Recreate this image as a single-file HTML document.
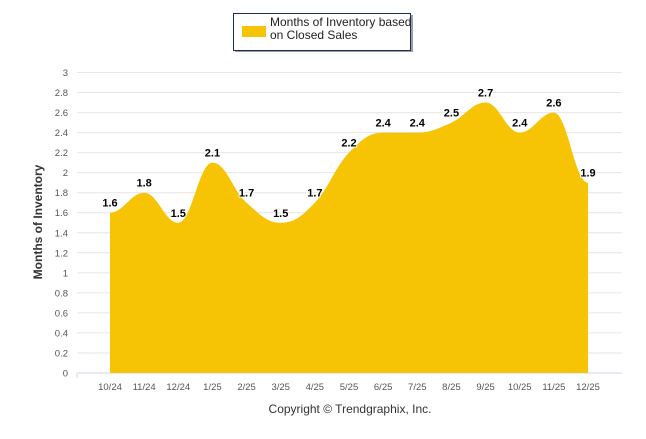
<!DOCTYPE html>
<html><head><meta charset="utf-8"><style>
body{margin:0;background:#fff;font-family:"Liberation Sans",Arial,sans-serif}
svg text{font-family:"Liberation Sans",Arial,sans-serif}
</style></head><body>
<svg width="646" height="434">
<g>
<rect x="235" y="15" width="178" height="37" fill="#333d55" opacity="0.5"/>
<rect x="233.5" y="13.5" width="177" height="37" fill="#fff" stroke="#1f2d4f" stroke-width="1"/>
<rect x="242" y="26" width="24" height="11" fill="#f6c405"/>
<text x="270" y="26" font-size="12" fill="#222">Months of Inventory based</text>
<text x="270" y="39" font-size="12" fill="#222">on Closed Sales</text>
</g>
<g id="grid"></g>
<path id="area" fill="#f6c405"/>
<g id="labels"></g>
<text transform="translate(42,222) rotate(-90)" text-anchor="middle" font-size="12" font-weight="bold" fill="#333">Months of Inventory</text>
<text x="350" y="413" text-anchor="middle" font-size="12" fill="#333">Copyright © Trendgraphix, Inc.</text>
</svg>
<script>
const categories=["10/24","11/24","12/24","1/25","2/25","3/25","4/25","5/25","6/25","7/25","8/25","9/25","10/25","11/25","12/25"];
const values=[1.6,1.8,1.5,2.1,1.7,1.5,1.7,2.2,2.4,2.4,2.5,2.7,2.4,2.6,1.9];
const yTicks=[0,0.2,0.4,0.6,0.8,1,1.2,1.4,1.6,1.8,2,2.2,2.4,2.6,2.8,3];
const NS="http://www.w3.org/2000/svg";
const X0=110,X1=588,Y0=373,Y3=72.5;
const x=i=>X0+(X1-X0)*i/(categories.length-1);
const y=v=>Y0-(Y0-Y3)*v/3;
function mk(t,a,p){const e=document.createElementNS(NS,t);for(const k in a)e.setAttribute(k,a[k]);p.appendChild(e);return e;}
const g=document.getElementById('grid');
yTicks.forEach(v=>{
 const l=mk('line',{x1:77,x2:622,y1:y(v),y2:y(v),stroke:v===0?'#ccd6eb':'#e6e6e6'},g);
 
 
 const t=mk('text',{x:68,y:y(v)+3.5,'text-anchor':'end','font-size':'9.5',fill:'#555'},g);t.textContent=v;
 
 
});
mk('line',{x1:77,x2:77,y1:373,y2:378,stroke:'#ccd6eb'},g);
categories.forEach((c,i)=>{
 const t=mk('text',{x:x(i),y:390,'text-anchor':'middle','font-size':'9.5',fill:'#555'},g);t.textContent=c;
 
 
});
// spline like highcharts
const pts=values.map((v,i)=>[x(i),y(v)]);
let d=`M${pts[0][0]},${Y0}L${pts[0][0]},${pts[0][1]}`;
const sm=1.5;
function ctrl(i){
 const p=pts[i],a=pts[i-1]||p,b=pts[i+1]||p;
 let lx=(sm*p[0]+a[0])/(sm+1),ly=(sm*p[1]+a[1])/(sm+1),rx=(sm*p[0]+b[0])/(sm+1),ry=(sm*p[1]+b[1])/(sm+1);
 if(i>0&&i<pts.length-1){const dx=rx-lx,slope=(ry-ly)/dx;
  const cly=ly, corr=p[1]-(ly+(p[0]-lx)*slope);ly+=corr;ry+=corr;
  if(ly>Math.max(a[1],p[1])||ly<Math.min(a[1],p[1])||ry>Math.max(b[1],p[1])||ry<Math.min(b[1],p[1])){ly=p[1];ry=p[1];}}
 else {ly=p[1];ry=p[1];}
 return {l:[lx,ly],r:[rx,ry]};
}
const cs=pts.map((p,i)=>ctrl(i));
for(let i=1;i<pts.length;i++){d+=`C${cs[i-1].r[0]},${cs[i-1].r[1]} ${cs[i].l[0]},${cs[i].l[1]} ${pts[i][0]},${pts[i][1]}`;}
d+=`L${pts[pts.length-1][0]},${Y0}Z`;
document.getElementById('area').setAttribute('d',d);
const lb=document.getElementById('labels');
values.forEach((v,i)=>{
 const t=mk('text',{x:x(i),y:y(v)-6,'text-anchor':'middle','font-size':'11','font-weight':'bold',fill:'#000',stroke:'#fff','stroke-width':'2','paint-order':'stroke'},lb);
 t.textContent=v.toFixed(1);
 
 
});
</script>
</body></html>
